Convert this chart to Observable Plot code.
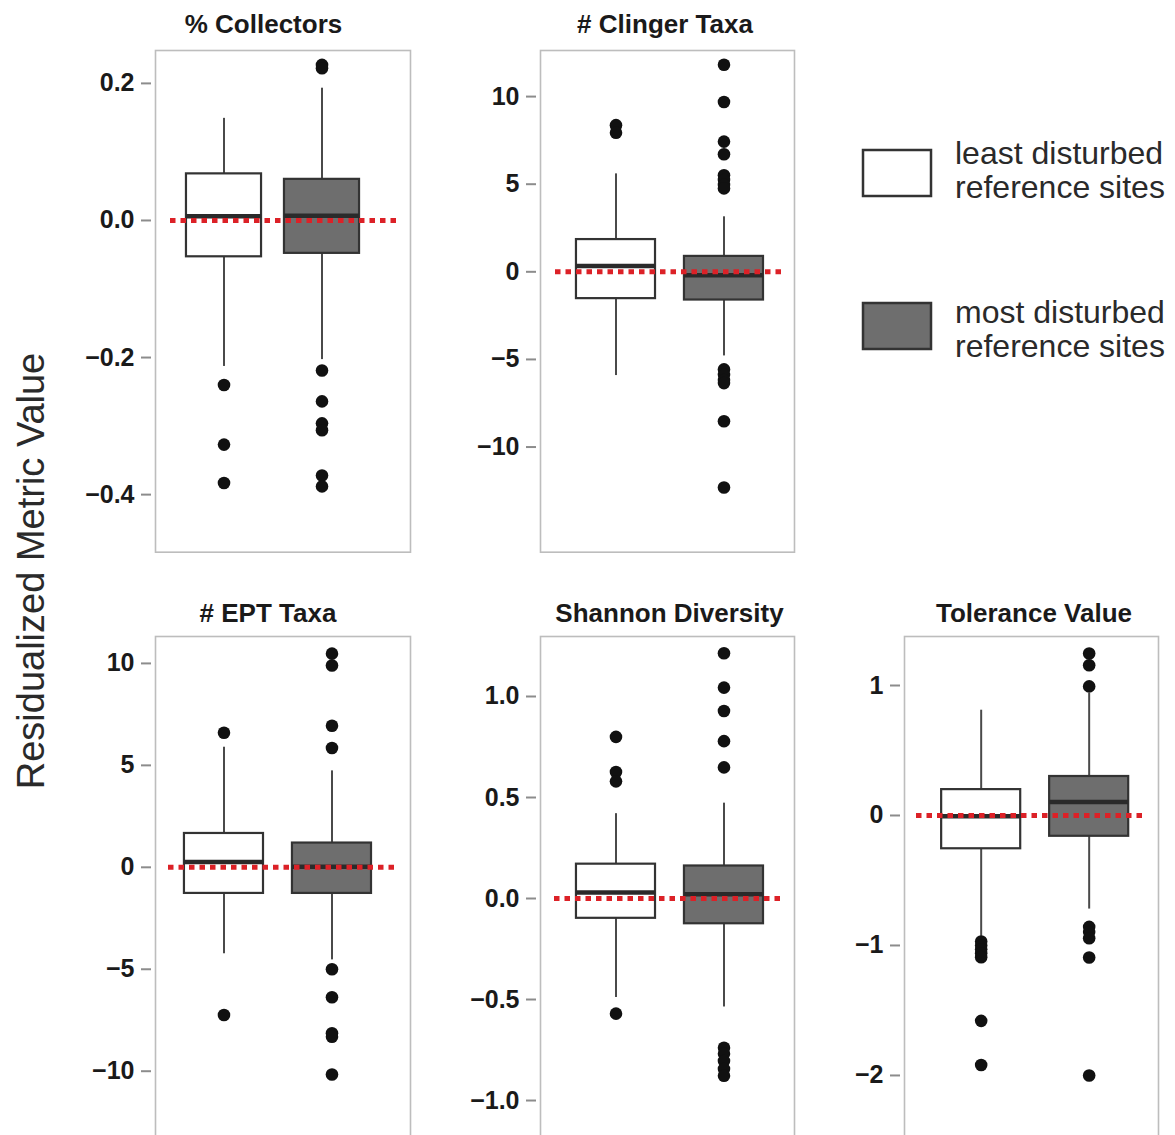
<!DOCTYPE html>
<html><head><meta charset="utf-8">
<script src="https://cdn.jsdelivr.net/npm/d3@7"></script>
<script src="https://cdn.jsdelivr.net/npm/@observablehq/plot@0.6"></script>
<style>
body{margin:0;background:#fff;}
#root{position:relative;width:1175px;height:1135px;overflow:hidden;font-family:"Liberation Sans",Arial,sans-serif;}
.title{position:absolute;font-weight:bold;font-size:26px;line-height:26px;color:#1a1a1a;white-space:nowrap;transform:translateX(-50%);}
.panel{position:absolute;}
#overlay{position:absolute;left:0;top:0;}
</style></head><body><div id="root"></div>
<script>
// ---- data ----
const metrics = ["% Collectors", "# Clinger Taxa", "# EPT Taxa", "Shannon Diversity", "Tolerance Value"];
const groups = ["least disturbed reference sites", "most disturbed reference sites"];
const q1 = [[-0.053, -0.048], [-1.53, -1.61], [-1.28, -1.28], [-0.098, -0.125], [-0.256, -0.16]];
const medians = [[0.006, 0.007], [0.33, -0.20], [0.26, 0.03], [0.03, 0.021], [-0.005, 0.103]];
const q3 = [[0.068, 0.060], [1.84, 0.88], [1.66, 1.19], [0.170, 0.161], [0.199, 0.30]];
const whiskerLo = [[-0.213, -0.203], [-5.92, -4.80], [-4.24, -4.54], [-0.49, -0.537], [-0.93, -0.72]];
const whiskerHi = [[0.149, 0.193], [5.59, 3.14], [5.89, 4.73], [0.42, 0.472], [0.81, 0.94]];
const outliers = [
  [[-0.240, -0.327, -0.383], [0.227, 0.222, -0.219, -0.264, -0.296, -0.306, -0.372, -0.388]],
  [[8.37, 7.94], [11.82, 9.69, 7.43, 6.71, 5.51, 5.24, 4.96, 4.76, -5.57, -5.88, -6.18, -6.35, -8.53, -12.31]],
  [[6.6, -7.24], [10.48, 9.9, 6.94, 5.85, -5.0, -6.37, -8.14, -8.31, -10.16]],
  [[0.80, 0.626, 0.58, -0.57], [1.214, 1.044, 0.928, 0.779, 0.649, -0.739, -0.768, -0.804, -0.844, -0.877]],
  [[-0.97, -1.0, -1.03, -1.06, -1.09, -1.58, -1.92], [1.246, 1.156, 0.993, -0.857, -0.897, -0.944, -1.093, -2.0]]
];
const yTicks = [[0.2, 0, -0.2, -0.4], [10, 5, 0, -5, -10], [10, 5, 0, -5, -10], [1, 0.5, 0, -0.5, -1], [1, 0, -1, -2]];
const yDomains = [[-0.484, 0.248], [-16.0, 12.63], [-13.3, 11.32], [-1.188, 1.297], [-2.485, 1.377]];
const referenceLine = 0;

// ---- layout ----
const layout = [
  {left: 155, top: 50, w: 255, h: 501.7, xDomain: [0.301, 2.903], half: 0.383, titleX: 263.5, titleTop: 11, inL: 15, inR: 10, fmt: ".1f"},
  {left: 539.5, top: 50, w: 254, h: 501.7, xDomain: [0.301, 2.653], half: 0.366, titleX: 665, titleTop: 11, inL: 15, inR: 10, fmt: "d"},
  {left: 155, top: 636, w: 255, h: 502, xDomain: [0.366, 2.727], half: 0.366, titleX: 268, titleTop: 600, inL: 13, inR: 12, fmt: "d"},
  {left: 539.5, top: 636, w: 254, h: 502, xDomain: [0.301, 2.653], half: 0.366, titleX: 669.5, titleTop: 600, inL: 14, inR: 10, fmt: ".1f"},
  {left: 904, top: 636, w: 254, h: 502, xDomain: [0.29, 2.642], half: 0.366, titleX: 1034, titleTop: 600, inL: 12, inR: 13, fmt: "d"}
];

const root = document.getElementById("root");
const FONT = '"Liberation Sans", Arial, sans-serif';
const mL = 110, mR = 6, mT = 6, mB = 6;
const fills = ["#ffffff", "#6e6e6e"];

layout.forEach((L, i) => {
  const box = groups.map((g, j) => ({
    g: j, x: j + 1, xl: j + 1 - L.half, xr: j + 1 + L.half,
    q1: q1[i][j], med: medians[i][j], q3: q3[i][j], lo: whiskerLo[i][j], hi: whiskerHi[i][j], fill: fills[j]
  }));
  const pts = groups.flatMap((g, j) => outliers[i][j].map(v => ({x: j + 1, v})));
  const fmt = d3.format(L.fmt);
  const svg = Plot.plot({
    width: mL + L.w + mR, height: mT + L.h + mB,
    marginLeft: mL, marginRight: mR, marginTop: mT, marginBottom: mB,
    x: {domain: L.xDomain, axis: null},
    y: {domain: yDomains[i]},
    style: {fontFamily: FONT, background: "transparent", overflow: "visible"},
    marks: [
      Plot.frame({stroke: "#bdbdbd", strokeWidth: 1.6}),
      Plot.axisY(yTicks[i], {anchor: "left", tickSize: 10, tickPadding: 7, dx: -4, tickFormat: fmt,
        fontSize: 25, fontWeight: "bold", fill: "#1a1a1a", stroke: "#8c8c8c", strokeWidth: 2, label: null}),
      Plot.ruleX(box, {x: "x", y1: "q3", y2: "hi", stroke: "#4a4a4a", strokeWidth: 2}),
      Plot.ruleX(box, {x: "x", y1: "q1", y2: "lo", stroke: "#4a4a4a", strokeWidth: 2}),
      Plot.rect(box, {x1: "xl", x2: "xr", y1: "q1", y2: "q3", fill: "fill", stroke: "#333333", strokeWidth: 2.2}),
      Plot.ruleY(box, {y: "med", x1: "xl", x2: "xr", stroke: "#2a2a2a", strokeWidth: 4.5}),
      Plot.ruleY([referenceLine], {stroke: "#dc2127", strokeWidth: 5, strokeDasharray: "5.5,5", insetLeft: L.inL, insetRight: L.inR}),
      Plot.dot(pts, {x: "x", y: "v", r: 6.3, fill: "#111111", stroke: "none"})
    ]
  });
  const div = document.createElement("div");
  div.className = "panel";
  div.style.left = (L.left - mL) + "px";
  div.style.top = (L.top - mT) + "px";
  div.appendChild(svg);
  root.appendChild(div);

  const t = document.createElement("div");
  t.className = "title";
  t.style.left = L.titleX + "px";
  t.style.top = L.titleTop + "px";
  t.textContent = metrics[i];
  root.appendChild(t);
});

// overlay: y label + legend
const ns = "http://www.w3.org/2000/svg";
const ov = document.createElementNS(ns, "svg");
ov.setAttribute("id", "overlay");
ov.setAttribute("width", 1175);
ov.setAttribute("height", 1135);
ov.style.fontFamily = FONT;
function txt(x, y, s, size, extra) {
  const t = document.createElementNS(ns, "text");
  t.setAttribute("x", x); t.setAttribute("y", y);
  t.setAttribute("font-size", size);
  t.setAttribute("fill", "#2a2a2a");
  if (extra) for (const k in extra) t.setAttribute(k, extra[k]);
  t.textContent = s;
  ov.appendChild(t);
  return t;
}
txt(0, 0, "Residualized Metric Value", 38, {transform: "translate(44,571) rotate(-90)", "text-anchor": "middle"});
const legendRows = [
  {y: 150, ty: 164, lines: ["least disturbed", "reference sites"]},
  {y: 303, ty: 323, lines: ["most disturbed", "reference sites"]}
];
legendRows.forEach((r, j) => {
  const rc = document.createElementNS(ns, "rect");
  rc.setAttribute("x", 863); rc.setAttribute("y", r.y);
  rc.setAttribute("width", 68); rc.setAttribute("height", 46);
  rc.setAttribute("fill", fills[j]); rc.setAttribute("stroke", "#333"); rc.setAttribute("stroke-width", 2.5);
  ov.appendChild(rc);
  txt(955, r.ty, r.lines[0], 32);
  txt(955, r.ty + 34, r.lines[1], 32);
});
root.appendChild(ov);
</script>
</body></html>
